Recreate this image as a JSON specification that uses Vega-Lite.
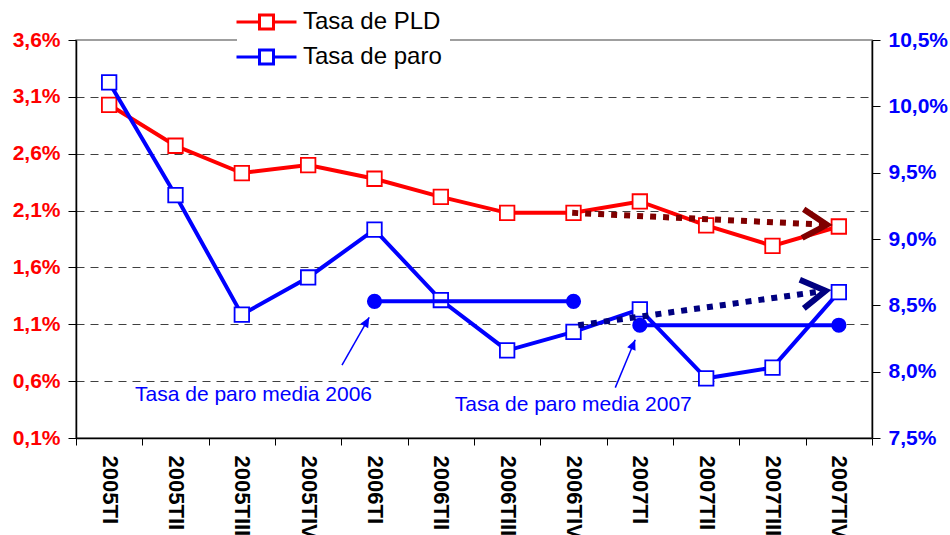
{
  "$schema": "https://vega.github.io/schema/vega-lite/v6.json",
  "width": 796,
  "height": 398,
  "autosize": {"type": "none"},
  "padding": {"left": 76, "top": 40, "right": 78, "bottom": 97},
  "background": "white",
  "config": {
    "view": {"stroke": "#808080", "strokeWidth": 1.5},
    "font": "Liberation Sans",
    "axis": {"title": null}
  },
  "datasets": {
    "main": [
      {"q": "2005TI", "serie": "Tasa de PLD", "v": 3.03},
      {"q": "2005TII", "serie": "Tasa de PLD", "v": 2.67},
      {"q": "2005TIII", "serie": "Tasa de PLD", "v": 2.43},
      {"q": "2005TIV", "serie": "Tasa de PLD", "v": 2.50},
      {"q": "2006TI", "serie": "Tasa de PLD", "v": 2.38},
      {"q": "2006TII", "serie": "Tasa de PLD", "v": 2.22},
      {"q": "2006TIII", "serie": "Tasa de PLD", "v": 2.08},
      {"q": "2006TIV", "serie": "Tasa de PLD", "v": 2.08},
      {"q": "2007TI", "serie": "Tasa de PLD", "v": 2.18},
      {"q": "2007TII", "serie": "Tasa de PLD", "v": 1.97},
      {"q": "2007TIII", "serie": "Tasa de PLD", "v": 1.79},
      {"q": "2007TIV", "serie": "Tasa de PLD", "v": 1.96},
      {"q": "2005TI", "serie": "Tasa de paro", "v": 10.18},
      {"q": "2005TII", "serie": "Tasa de paro", "v": 9.33},
      {"q": "2005TIII", "serie": "Tasa de paro", "v": 8.43},
      {"q": "2005TIV", "serie": "Tasa de paro", "v": 8.71},
      {"q": "2006TI", "serie": "Tasa de paro", "v": 9.07},
      {"q": "2006TII", "serie": "Tasa de paro", "v": 8.54},
      {"q": "2006TIII", "serie": "Tasa de paro", "v": 8.16},
      {"q": "2006TIV", "serie": "Tasa de paro", "v": 8.30},
      {"q": "2007TI", "serie": "Tasa de paro", "v": 8.47},
      {"q": "2007TII", "serie": "Tasa de paro", "v": 7.95},
      {"q": "2007TIII", "serie": "Tasa de paro", "v": 8.03},
      {"q": "2007TIV", "serie": "Tasa de paro", "v": 8.60}
    ],
    "medias": [
      {"q": "2006TI", "anio": "2006", "v": 8.53},
      {"q": "2006TIV", "anio": "2006", "v": 8.53},
      {"q": "2007TI", "anio": "2007", "v": 8.35},
      {"q": "2007TIV", "anio": "2007", "v": 8.35}
    ]
  },
  "layer": [
    {
      "data": {"name": "main"},
      "transform": [{"filter": "datum.serie == 'Tasa de PLD'"}],
      "encoding": {
        "x": {
          "field": "q", "type": "ordinal",
          "sort": ["2005TI","2005TII","2005TIII","2005TIV","2006TI","2006TII","2006TIII","2006TIV","2007TI","2007TII","2007TIII","2007TIV"],
          "scale": {"type": "band", "paddingInner": 0, "paddingOuter": 0},
          "axis": {
            "tickBand": "extent", "labelAngle": 90, "labelFontSize": 22, "labelFontWeight": "bold",
            "labelColor": "black", "labelFont": "Liberation Sans", "tickColor": "black", "tickSize": 7,
            "labelPadding": 10, "domainColor": "black", "domainWidth": 1.5, "grid": false
          }
        },
        "y": {
          "field": "v", "type": "quantitative",
          "scale": {"domain": [0.1, 3.6], "nice": false, "zero": false},
          "axis": {
            "orient": "left", "values": [0.1, 0.6, 1.1, 1.6, 2.1, 2.6, 3.1, 3.6],
            "labelExpr": "replace(format(datum.value, '.1f'), '.', ',') + '%'",
            "labelColor": "#FF0000", "labelFontSize": 21, "labelFontWeight": "bold", "labelFont": "Liberation Sans",
            "tickColor": "black", "tickSize": 8, "labelPadding": 8, "domainColor": "black", "domainWidth": 1.5,
            "grid": true, "gridColor": "#404040", "gridDash": [8, 6],
            "gridOpacity": {"condition": {"test": "datum.value > 3.5 || datum.value < 0.2", "value": 0}, "value": 1}
          }
        },
        "color": {
          "field": "serie", "type": "nominal",
          "scale": {"domain": ["Tasa de PLD", "Tasa de paro"], "range": ["#FF0000", "#0000FF"]},
          "legend": {
            "title": null, "orient": "none", "legendX": 161, "legendY": -47.5,
            "fillColor": "white", "padding": 8, "rowPadding": -2,
            "labelFont": "Liberation Sans", "labelFontSize": 24, "labelColor": "black", "labelOffset": 15,
            "symbolType": "M-1.5,0H-0.35M0.35,0H1.5M-0.35,-0.35H0.35V0.35H-0.35Z",
            "symbolSize": 1600, "symbolStrokeWidth": 3, "symbolFillColor": "white",
            "encode": {"symbols": {"update": {"fill": {"value": "white"}, "fillOpacity": {"value": 1}, "strokeWidth": {"value": 3}}}}
          }
        }
      },
      "layer": [
        {"mark": {"type": "line", "strokeWidth": 4}},
        {"mark": {"type": "point", "shape": "square", "size": 210, "filled": false, "fill": "white", "fillOpacity": 1, "strokeWidth": 1.8, "opacity": 1}}
      ]
    },
    {
      "layer": [
        {
          "data": {"name": "main"},
          "transform": [{"filter": "datum.serie == 'Tasa de paro'"}],
          "encoding": {
            "x": {
              "field": "q", "type": "ordinal",
              "sort": ["2005TI","2005TII","2005TIII","2005TIV","2006TI","2006TII","2006TIII","2006TIV","2007TI","2007TII","2007TIII","2007TIV"],
              "scale": {"type": "band", "paddingInner": 0, "paddingOuter": 0},
              "axis": null
            },
            "y": {
              "field": "v", "type": "quantitative",
              "scale": {"domain": [7.5, 10.5], "nice": false, "zero": false},
              "axis": {
                "orient": "right", "values": [7.5, 8.0, 8.5, 9.0, 9.5, 10.0, 10.5],
                "labelExpr": "replace(format(datum.value, '.1f'), '.', ',') + '%'",
                "labelColor": "#0000FF", "labelFontSize": 21, "labelFontWeight": "bold", "labelFont": "Liberation Sans",
                "tickColor": "black", "tickSize": 8, "labelPadding": 8, "domainColor": "black", "domainWidth": 1.5,
                "grid": false
              }
            },
            "color": {"field": "serie", "type": "nominal"}
          },
          "layer": [
            {"mark": {"type": "line", "strokeWidth": 4}},
            {"mark": {"type": "point", "shape": "square", "size": 210, "filled": false, "fill": "white", "fillOpacity": 1, "strokeWidth": 1.8, "opacity": 1}}
          ]
        },
        {
          "data": {"name": "medias"},
          "encoding": {
            "x": {"field": "q", "type": "ordinal",
              "sort": ["2005TI","2005TII","2005TIII","2005TIV","2006TI","2006TII","2006TIII","2006TIV","2007TI","2007TII","2007TIII","2007TIV"]},
            "y": {"field": "v", "type": "quantitative"},
            "detail": {"field": "anio"}
          },
          "layer": [
            {"mark": {"type": "line", "strokeWidth": 4, "color": "#0000FF"}},
            {"mark": {"type": "circle", "size": 230, "color": "#0000FF", "opacity": 1}}
          ]
        }
      ]
    },
    {
      "data": {"values": [{"x1": 6.98, "y1": 2.08, "x2": 10.82, "y2": 1.975}]},
      "encoding": {
        "x": {"field": "x1", "type": "quantitative", "scale": {"domain": [-0.5, 11.5], "nice": false, "zero": false}, "axis": null},
        "y": {"field": "y1", "type": "quantitative", "scale": {"domain": [0.1, 3.6], "nice": false, "zero": false}, "axis": null},
        "x2": {"field": "x2"},
        "y2": {"field": "y2"}
      },
      "layer": [
        {"mark": {"type": "rule", "color": "#800000", "strokeWidth": 6, "strokeDash": [6, 7], "strokeCap": "butt"}},
        {
          "mark": {"type": "point", "shape": "M-1,-0.6L0,0L-1,0.6", "size": 2304, "angle": 3, "color": "#800000", "strokeWidth": 6, "filled": false, "opacity": 1},
          "encoding": {"x": {"field": "x2", "type": "quantitative"}, "y": {"field": "y2", "type": "quantitative"}, "x2": null, "y2": null}
        }
      ]
    },
    {
      "layer": [
        {
          "data": {"values": [{"x1": 7.07, "y1": 8.35, "x2": 10.8, "y2": 8.61}]},
          "encoding": {
            "x": {"field": "x1", "type": "quantitative", "scale": {"domain": [-0.5, 11.5], "nice": false, "zero": false}, "axis": null},
            "y": {"field": "y1", "type": "quantitative", "scale": {"domain": [7.5, 10.5], "nice": false, "zero": false}, "axis": null},
            "x2": {"field": "x2"},
            "y2": {"field": "y2"}
          },
          "layer": [
            {"mark": {"type": "rule", "color": "#000080", "strokeWidth": 6, "strokeDash": [6, 7], "strokeCap": "butt"}},
            {
              "mark": {"type": "point", "shape": "M-1,-0.6L0,0L-1,0.6", "size": 2304, "angle": -8, "color": "#000080", "strokeWidth": 6, "filled": false, "opacity": 1},
              "encoding": {"x": {"field": "x2", "type": "quantitative"}, "y": {"field": "y2", "type": "quantitative"}, "x2": null, "y2": null}
            }
          ]
        },
        {
          "data": {"values": [{"x1": 3.51, "y1": 8.05, "x2": 3.92, "y2": 8.41}]},
          "encoding": {
            "x": {"field": "x1", "type": "quantitative"},
            "y": {"field": "y1", "type": "quantitative"},
            "x2": {"field": "x2"},
            "y2": {"field": "y2"}
          },
          "layer": [
            {"mark": {"type": "rule", "color": "#0000FF", "strokeWidth": 1.5}},
            {
              "mark": {"type": "point", "shape": "M0,0L-1,-0.45L-1,0.45Z", "size": 400, "angle": -60.6, "color": "#0000FF", "filled": true, "opacity": 1, "strokeWidth": 0},
              "encoding": {"x": {"field": "x2", "type": "quantitative"}, "y": {"field": "y2", "type": "quantitative"}, "x2": null, "y2": null}
            }
          ]
        },
        {
          "data": {"values": [{"x1": 7.63, "y1": 7.88, "x2": 7.93, "y2": 8.24}]},
          "encoding": {
            "x": {"field": "x1", "type": "quantitative"},
            "y": {"field": "y1", "type": "quantitative"},
            "x2": {"field": "x2"},
            "y2": {"field": "y2"}
          },
          "layer": [
            {"mark": {"type": "rule", "color": "#0000FF", "strokeWidth": 1.5}},
            {
              "mark": {"type": "point", "shape": "M0,0L-1,-0.45L-1,0.45Z", "size": 400, "angle": -67.4, "color": "#0000FF", "filled": true, "opacity": 1, "strokeWidth": 0},
              "encoding": {"x": {"field": "x2", "type": "quantitative"}, "y": {"field": "y2", "type": "quantitative"}, "x2": null, "y2": null}
            }
          ]
        },
        {
          "data": {"values": [
            {"tx": 0.39, "ty": 7.825, "label": "Tasa de paro media 2006"},
            {"tx": 5.21, "ty": 7.75, "label": "Tasa de paro media 2007"}
          ]},
          "mark": {"type": "text", "align": "left", "baseline": "middle", "fontSize": 21, "font": "Liberation Sans", "color": "#0000FF"},
          "encoding": {
            "x": {"field": "tx", "type": "quantitative"},
            "y": {"field": "ty", "type": "quantitative"},
            "text": {"field": "label"}
          }
        }
      ]
    }
  ],
  "resolve": {"scale": {"x": "independent", "y": "independent"}}
}
